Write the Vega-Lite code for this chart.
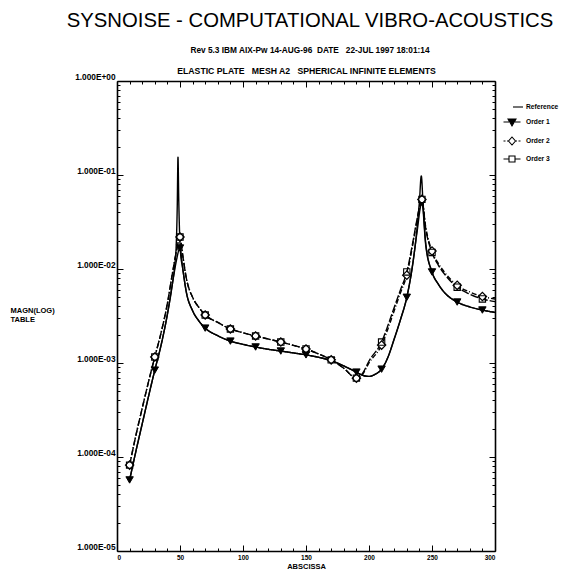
{
  "$schema": "https://vega.github.io/schema/vega-lite/v6.json",
  "width": 378,
  "height": 470,
  "autosize": {"type": "none"},
  "padding": {"left": 117, "top": 81, "right": 75, "bottom": 23},
  "background": "white",
  "config": {
    "font": "Liberation Sans",
    "view": {"stroke": null},
    "axis": {
      "domainColor": "black",
      "domainWidth": 1.6,
      "tickColor": "black",
      "tickWidth": 1,
      "grid": false,
      "labelFont": "Liberation Sans",
      "labelFontWeight": "bold",
      "labelFontSize": 6.5,
      "labelColor": "black",
      "titleFont": "Liberation Sans",
      "titleFontWeight": "bold",
      "titleFontSize": 7.5,
      "titleColor": "black"
    },
    "legend": {
      "labelFont": "Liberation Sans",
      "labelFontWeight": "bold",
      "labelFontSize": 6.7,
      "labelColor": "black"
    }
  },
  "title": {
    "text": "SYSNOISE - COMPUTATIONAL VIBRO-ACOUSTICS",
    "subtitle": "Rev 5.3 IBM AIX-Pw 14-AUG-96\u00a0\u00a0DATE\u00a0\u00a0 22-JUL 1997 18:01:14",
    "anchor": "middle",
    "frame": "group",
    "dx": 4,
    "offset": 12,
    "font": "Liberation Sans",
    "fontSize": 20.3,
    "fontWeight": "normal",
    "color": "black",
    "subtitleFont": "Liberation Sans",
    "subtitleFontSize": 8.3,
    "subtitleFontWeight": "bold",
    "subtitleColor": "black",
    "subtitlePadding": 14.5
  },
  "data": {
    "values": [
      {"series": "Reference", "abscissa": 10, "magnitude": 5.7e-5},
      {"series": "Reference", "abscissa": 15, "magnitude": 1.15e-4},
      {"series": "Reference", "abscissa": 20, "magnitude": 2.25e-4},
      {"series": "Reference", "abscissa": 25, "magnitude": 4.4e-4},
      {"series": "Reference", "abscissa": 30, "magnitude": 8.4e-4},
      {"series": "Reference", "abscissa": 35, "magnitude": 1.55e-3},
      {"series": "Reference", "abscissa": 40, "magnitude": 3.3e-3},
      {"series": "Reference", "abscissa": 44, "magnitude": 7.0e-3},
      {"series": "Reference", "abscissa": 46, "magnitude": 1.15e-2},
      {"series": "Reference", "abscissa": 47, "magnitude": 1.8e-2},
      {"series": "Reference", "abscissa": 47.8, "magnitude": 4.5e-2},
      {"series": "Reference", "abscissa": 48.4, "magnitude": 1.55e-1},
      {"series": "Reference", "abscissa": 49, "magnitude": 5.5e-2},
      {"series": "Reference", "abscissa": 49.6, "magnitude": 2.6e-2},
      {"series": "Reference", "abscissa": 50.5, "magnitude": 1.45e-2},
      {"series": "Reference", "abscissa": 52, "magnitude": 1.05e-2},
      {"series": "Reference", "abscissa": 55, "magnitude": 5.7e-3},
      {"series": "Reference", "abscissa": 60, "magnitude": 3.6e-3},
      {"series": "Reference", "abscissa": 65, "magnitude": 2.8e-3},
      {"series": "Reference", "abscissa": 70, "magnitude": 2.35e-3},
      {"series": "Reference", "abscissa": 80, "magnitude": 1.95e-3},
      {"series": "Reference", "abscissa": 90, "magnitude": 1.71e-3},
      {"series": "Reference", "abscissa": 100, "magnitude": 1.58e-3},
      {"series": "Reference", "abscissa": 110, "magnitude": 1.48e-3},
      {"series": "Reference", "abscissa": 120, "magnitude": 1.40e-3},
      {"series": "Reference", "abscissa": 130, "magnitude": 1.34e-3},
      {"series": "Reference", "abscissa": 140, "magnitude": 1.28e-3},
      {"series": "Reference", "abscissa": 150, "magnitude": 1.22e-3},
      {"series": "Reference", "abscissa": 160, "magnitude": 1.15e-3},
      {"series": "Reference", "abscissa": 170, "magnitude": 1.06e-3},
      {"series": "Reference", "abscissa": 180, "magnitude": 9.3e-4},
      {"series": "Reference", "abscissa": 190, "magnitude": 8.0e-4},
      {"series": "Reference", "abscissa": 195, "magnitude": 7.4e-4},
      {"series": "Reference", "abscissa": 200, "magnitude": 7.2e-4},
      {"series": "Reference", "abscissa": 205, "magnitude": 7.6e-4},
      {"series": "Reference", "abscissa": 210, "magnitude": 8.6e-4},
      {"series": "Reference", "abscissa": 215, "magnitude": 1.15e-3},
      {"series": "Reference", "abscissa": 220, "magnitude": 1.8e-3},
      {"series": "Reference", "abscissa": 225, "magnitude": 2.9e-3},
      {"series": "Reference", "abscissa": 230, "magnitude": 5.0e-3},
      {"series": "Reference", "abscissa": 235, "magnitude": 1.2e-2},
      {"series": "Reference", "abscissa": 238, "magnitude": 2.6e-2},
      {"series": "Reference", "abscissa": 240, "magnitude": 5.2e-2},
      {"series": "Reference", "abscissa": 241.5, "magnitude": 9.8e-2},
      {"series": "Reference", "abscissa": 243, "magnitude": 4.6e-2},
      {"series": "Reference", "abscissa": 245, "magnitude": 1.9e-2},
      {"series": "Reference", "abscissa": 250, "magnitude": 9.3e-3},
      {"series": "Reference", "abscissa": 255, "magnitude": 6.9e-3},
      {"series": "Reference", "abscissa": 260, "magnitude": 5.6e-3},
      {"series": "Reference", "abscissa": 270, "magnitude": 4.45e-3},
      {"series": "Reference", "abscissa": 280, "magnitude": 3.95e-3},
      {"series": "Reference", "abscissa": 290, "magnitude": 3.66e-3},
      {"series": "Reference", "abscissa": 300, "magnitude": 3.45e-3},

      {"series": "Order 1", "abscissa": 10, "magnitude": 5.7e-5},
      {"series": "Order 1", "abscissa": 15, "magnitude": 1.15e-4},
      {"series": "Order 1", "abscissa": 20, "magnitude": 2.25e-4},
      {"series": "Order 1", "abscissa": 25, "magnitude": 4.4e-4},
      {"series": "Order 1", "abscissa": 30, "magnitude": 8.4e-4},
      {"series": "Order 1", "abscissa": 35, "magnitude": 1.55e-3},
      {"series": "Order 1", "abscissa": 40, "magnitude": 3.3e-3},
      {"series": "Order 1", "abscissa": 44, "magnitude": 7.0e-3},
      {"series": "Order 1", "abscissa": 47, "magnitude": 1.2e-2},
      {"series": "Order 1", "abscissa": 50, "magnitude": 1.67e-2},
      {"series": "Order 1", "abscissa": 52, "magnitude": 1.05e-2},
      {"series": "Order 1", "abscissa": 55, "magnitude": 5.7e-3},
      {"series": "Order 1", "abscissa": 60, "magnitude": 3.6e-3},
      {"series": "Order 1", "abscissa": 65, "magnitude": 2.8e-3},
      {"series": "Order 1", "abscissa": 70, "magnitude": 2.35e-3},
      {"series": "Order 1", "abscissa": 80, "magnitude": 1.95e-3},
      {"series": "Order 1", "abscissa": 90, "magnitude": 1.71e-3},
      {"series": "Order 1", "abscissa": 100, "magnitude": 1.58e-3},
      {"series": "Order 1", "abscissa": 110, "magnitude": 1.48e-3},
      {"series": "Order 1", "abscissa": 120, "magnitude": 1.40e-3},
      {"series": "Order 1", "abscissa": 130, "magnitude": 1.34e-3},
      {"series": "Order 1", "abscissa": 140, "magnitude": 1.28e-3},
      {"series": "Order 1", "abscissa": 150, "magnitude": 1.22e-3},
      {"series": "Order 1", "abscissa": 160, "magnitude": 1.15e-3},
      {"series": "Order 1", "abscissa": 170, "magnitude": 1.06e-3},
      {"series": "Order 1", "abscissa": 180, "magnitude": 9.3e-4},
      {"series": "Order 1", "abscissa": 190, "magnitude": 8.0e-4},
      {"series": "Order 1", "abscissa": 195, "magnitude": 7.4e-4},
      {"series": "Order 1", "abscissa": 200, "magnitude": 7.2e-4},
      {"series": "Order 1", "abscissa": 205, "magnitude": 7.6e-4},
      {"series": "Order 1", "abscissa": 210, "magnitude": 8.6e-4},
      {"series": "Order 1", "abscissa": 215, "magnitude": 1.15e-3},
      {"series": "Order 1", "abscissa": 220, "magnitude": 1.8e-3},
      {"series": "Order 1", "abscissa": 225, "magnitude": 2.9e-3},
      {"series": "Order 1", "abscissa": 230, "magnitude": 5.0e-3},
      {"series": "Order 1", "abscissa": 235, "magnitude": 1.2e-2},
      {"series": "Order 1", "abscissa": 238, "magnitude": 2.4e-2},
      {"series": "Order 1", "abscissa": 242, "magnitude": 5.1e-2},
      {"series": "Order 1", "abscissa": 245, "magnitude": 1.8e-2},
      {"series": "Order 1", "abscissa": 250, "magnitude": 9.3e-3},
      {"series": "Order 1", "abscissa": 255, "magnitude": 6.9e-3},
      {"series": "Order 1", "abscissa": 260, "magnitude": 5.6e-3},
      {"series": "Order 1", "abscissa": 270, "magnitude": 4.45e-3},
      {"series": "Order 1", "abscissa": 280, "magnitude": 3.95e-3},
      {"series": "Order 1", "abscissa": 290, "magnitude": 3.66e-3},
      {"series": "Order 1", "abscissa": 300, "magnitude": 3.45e-3},

      {"series": "Order 2", "abscissa": 10, "magnitude": 8.2e-5},
      {"series": "Order 2", "abscissa": 15, "magnitude": 1.7e-4},
      {"series": "Order 2", "abscissa": 20, "magnitude": 3.3e-4},
      {"series": "Order 2", "abscissa": 25, "magnitude": 6.3e-4},
      {"series": "Order 2", "abscissa": 30, "magnitude": 1.16e-3},
      {"series": "Order 2", "abscissa": 35, "magnitude": 2.1e-3},
      {"series": "Order 2", "abscissa": 40, "magnitude": 4.3e-3},
      {"series": "Order 2", "abscissa": 44, "magnitude": 9.0e-3},
      {"series": "Order 2", "abscissa": 47, "magnitude": 1.5e-2},
      {"series": "Order 2", "abscissa": 50, "magnitude": 2.19e-2},
      {"series": "Order 2", "abscissa": 52, "magnitude": 1.45e-2},
      {"series": "Order 2", "abscissa": 55, "magnitude": 8.0e-3},
      {"series": "Order 2", "abscissa": 60, "magnitude": 5.0e-3},
      {"series": "Order 2", "abscissa": 65, "magnitude": 3.9e-3},
      {"series": "Order 2", "abscissa": 70, "magnitude": 3.24e-3},
      {"series": "Order 2", "abscissa": 80, "magnitude": 2.7e-3},
      {"series": "Order 2", "abscissa": 90, "magnitude": 2.3e-3},
      {"series": "Order 2", "abscissa": 100, "magnitude": 2.1e-3},
      {"series": "Order 2", "abscissa": 110, "magnitude": 1.94e-3},
      {"series": "Order 2", "abscissa": 120, "magnitude": 1.8e-3},
      {"series": "Order 2", "abscissa": 130, "magnitude": 1.67e-3},
      {"series": "Order 2", "abscissa": 140, "magnitude": 1.54e-3},
      {"series": "Order 2", "abscissa": 150, "magnitude": 1.41e-3},
      {"series": "Order 2", "abscissa": 160, "magnitude": 1.25e-3},
      {"series": "Order 2", "abscissa": 170, "magnitude": 1.08e-3},
      {"series": "Order 2", "abscissa": 180, "magnitude": 8.8e-4},
      {"series": "Order 2", "abscissa": 190, "magnitude": 6.9e-4},
      {"series": "Order 2", "abscissa": 195, "magnitude": 7.6e-4},
      {"series": "Order 2", "abscissa": 200, "magnitude": 1.0e-3},
      {"series": "Order 2", "abscissa": 210, "magnitude": 1.55e-3},
      {"series": "Order 2", "abscissa": 215, "magnitude": 2.3e-3},
      {"series": "Order 2", "abscissa": 220, "magnitude": 3.6e-3},
      {"series": "Order 2", "abscissa": 225, "magnitude": 5.6e-3},
      {"series": "Order 2", "abscissa": 230, "magnitude": 8.6e-3},
      {"series": "Order 2", "abscissa": 235, "magnitude": 1.9e-2},
      {"series": "Order 2", "abscissa": 238, "magnitude": 3.2e-2},
      {"series": "Order 2", "abscissa": 242, "magnitude": 5.5e-2},
      {"series": "Order 2", "abscissa": 245, "magnitude": 2.8e-2},
      {"series": "Order 2", "abscissa": 250, "magnitude": 1.55e-2},
      {"series": "Order 2", "abscissa": 255, "magnitude": 1.15e-2},
      {"series": "Order 2", "abscissa": 260, "magnitude": 9.2e-3},
      {"series": "Order 2", "abscissa": 270, "magnitude": 6.7e-3},
      {"series": "Order 2", "abscissa": 280, "magnitude": 5.7e-3},
      {"series": "Order 2", "abscissa": 290, "magnitude": 5.1e-3},
      {"series": "Order 2", "abscissa": 300, "magnitude": 4.8e-3},

      {"series": "Order 3", "abscissa": 10, "magnitude": 8.2e-5},
      {"series": "Order 3", "abscissa": 15, "magnitude": 1.7e-4},
      {"series": "Order 3", "abscissa": 20, "magnitude": 3.3e-4},
      {"series": "Order 3", "abscissa": 25, "magnitude": 6.3e-4},
      {"series": "Order 3", "abscissa": 30, "magnitude": 1.16e-3},
      {"series": "Order 3", "abscissa": 35, "magnitude": 2.1e-3},
      {"series": "Order 3", "abscissa": 40, "magnitude": 4.3e-3},
      {"series": "Order 3", "abscissa": 44, "magnitude": 9.0e-3},
      {"series": "Order 3", "abscissa": 47, "magnitude": 1.5e-2},
      {"series": "Order 3", "abscissa": 50, "magnitude": 2.19e-2},
      {"series": "Order 3", "abscissa": 52, "magnitude": 1.45e-2},
      {"series": "Order 3", "abscissa": 55, "magnitude": 8.0e-3},
      {"series": "Order 3", "abscissa": 60, "magnitude": 5.0e-3},
      {"series": "Order 3", "abscissa": 65, "magnitude": 3.9e-3},
      {"series": "Order 3", "abscissa": 70, "magnitude": 3.24e-3},
      {"series": "Order 3", "abscissa": 80, "magnitude": 2.7e-3},
      {"series": "Order 3", "abscissa": 90, "magnitude": 2.3e-3},
      {"series": "Order 3", "abscissa": 100, "magnitude": 2.1e-3},
      {"series": "Order 3", "abscissa": 110, "magnitude": 1.94e-3},
      {"series": "Order 3", "abscissa": 120, "magnitude": 1.8e-3},
      {"series": "Order 3", "abscissa": 130, "magnitude": 1.67e-3},
      {"series": "Order 3", "abscissa": 140, "magnitude": 1.54e-3},
      {"series": "Order 3", "abscissa": 150, "magnitude": 1.41e-3},
      {"series": "Order 3", "abscissa": 160, "magnitude": 1.25e-3},
      {"series": "Order 3", "abscissa": 170, "magnitude": 1.08e-3},
      {"series": "Order 3", "abscissa": 180, "magnitude": 8.8e-4},
      {"series": "Order 3", "abscissa": 190, "magnitude": 6.9e-4},
      {"series": "Order 3", "abscissa": 195, "magnitude": 7.8e-4},
      {"series": "Order 3", "abscissa": 200, "magnitude": 1.05e-3},
      {"series": "Order 3", "abscissa": 210, "magnitude": 1.67e-3},
      {"series": "Order 3", "abscissa": 215, "magnitude": 2.5e-3},
      {"series": "Order 3", "abscissa": 220, "magnitude": 3.9e-3},
      {"series": "Order 3", "abscissa": 225, "magnitude": 6.0e-3},
      {"series": "Order 3", "abscissa": 230, "magnitude": 9.3e-3},
      {"series": "Order 3", "abscissa": 235, "magnitude": 2.0e-2},
      {"series": "Order 3", "abscissa": 238, "magnitude": 3.3e-2},
      {"series": "Order 3", "abscissa": 242, "magnitude": 5.5e-2},
      {"series": "Order 3", "abscissa": 245, "magnitude": 2.7e-2},
      {"series": "Order 3", "abscissa": 250, "magnitude": 1.5e-2},
      {"series": "Order 3", "abscissa": 255, "magnitude": 1.1e-2},
      {"series": "Order 3", "abscissa": 260, "magnitude": 8.8e-3},
      {"series": "Order 3", "abscissa": 270, "magnitude": 6.4e-3},
      {"series": "Order 3", "abscissa": 280, "magnitude": 5.4e-3},
      {"series": "Order 3", "abscissa": 290, "magnitude": 4.8e-3},
      {"series": "Order 3", "abscissa": 300, "magnitude": 4.5e-3}
    ]
  },
  "layer": [
    {
      "mark": {"type": "line", "color": "black", "strokeWidth": 1.4, "interpolate": "monotone"},
      "encoding": {
        "x": {
          "field": "abscissa", "type": "quantitative",
          "scale": {"domain": [0, 300], "nice": false},
          "axis": {
            "orient": "bottom",
            "title": "ABSCISSA",
            "titlePadding": 2,
            "values": [0,10,20,30,40,50,60,70,80,90,100,110,120,130,140,150,160,170,180,190,200,210,220,230,240,250,260,270,280,290,300],
            "labelExpr": "datum.value % 50 === 0 ? datum.value : ''",
            "labelPadding": 9,
            "tickSize": {"condition": {"test": "datum.value % 50 === 0", "value": -6}, "value": -3}
          }
        },
        "y": {
          "field": "magnitude", "type": "quantitative",
          "scale": {"type": "log", "domain": [1e-5, 1], "nice": false},
          "axis": {
            "orient": "left",
            "title": ["MAGN(LOG)", "TABLE"],
            "titleAngle": 0,
            "titleAlign": "left",
            "titleBaseline": "top",
            "titleX": -107,
            "titleY": 225,
            "titleFontSize": 7.5,
            "titleLineHeight": 9,
            "values": [1e-5,2e-5,3e-5,4e-5,5e-5,6e-5,7e-5,8e-5,9e-5,1e-4,2e-4,3e-4,4e-4,5e-4,6e-4,7e-4,8e-4,9e-4,1e-3,2e-3,3e-3,4e-3,5e-3,6e-3,7e-3,8e-3,9e-3,1e-2,2e-2,3e-2,4e-2,5e-2,6e-2,7e-2,8e-2,9e-2,0.1,0.2,0.3,0.4,0.5,0.6,0.7,0.8,0.9,1],
            "labelExpr": "abs(log(datum.value)/LN10 - round(log(datum.value)/LN10)) < 0.001 ? (round(log(datum.value)/LN10) === 0 ? '1.000E+00' : '1.000E-0' + (-round(log(datum.value)/LN10))) : ''",
            "labelBaseline": "bottom",
            "labelFontSize": 8.3,
            "labelPadding": 8,
            "tickSize": {"condition": {"test": "abs(log(datum.value)/LN10 - round(log(datum.value)/LN10)) < 0.001", "value": -6}, "value": -3}
          }
        },
        "strokeDash": {
          "field": "series", "type": "nominal",
          "scale": {"domain": ["Reference", "Order 1", "Order 2", "Order 3"], "range": [[1, 0], [1, 0], [5, 2, 1, 2], [8, 2]]},
          "legend": null
        },
        "detail": {"field": "series"}
      }
    },
    {
      "transform": [
        {"filter": {"field": "series", "equal": "Order 1"}},
        {"filter": {"field": "abscissa", "oneOf": [10, 30, 50, 70, 90, 110, 130, 150, 170, 190, 210, 230, 242, 250, 270, 290]}}
      ],
      "mark": {"type": "point", "shape": "triangle-down", "filled": true, "fill": "black", "stroke": "black", "strokeWidth": 1, "size": 55, "opacity": 1},
      "encoding": {
        "x": {
          "field": "abscissa", "type": "quantitative",
          "axis": {
            "orient": "top",
            "title": "ELASTIC PLATE\u00a0\u00a0 MESH A2\u00a0\u00a0 SPHERICAL INFINITE ELEMENTS",
            "titleFontSize": 8.7,
            "titlePadding": 5,
            "labels": false,
            "values": [0,10,20,30,40,50,60,70,80,90,100,110,120,130,140,150,160,170,180,190,200,210,220,230,240,250,260,270,280,290,300],
            "tickSize": {"condition": {"test": "datum.value % 50 === 0", "value": -6}, "value": -3}
          }
        },
        "y": {
          "field": "magnitude", "type": "quantitative",
          "axis": {
            "orient": "right", "title": null, "labels": false,
            "values": [1e-5,2e-5,3e-5,4e-5,5e-5,6e-5,7e-5,8e-5,9e-5,1e-4,2e-4,3e-4,4e-4,5e-4,6e-4,7e-4,8e-4,9e-4,1e-3,2e-3,3e-3,4e-3,5e-3,6e-3,7e-3,8e-3,9e-3,1e-2,2e-2,3e-2,4e-2,5e-2,6e-2,7e-2,8e-2,9e-2,0.1,0.2,0.3,0.4,0.5,0.6,0.7,0.8,0.9,1],
            "tickSize": {"condition": {"test": "abs(log(datum.value)/LN10 - round(log(datum.value)/LN10)) < 0.001", "value": -6}, "value": -3}
          }
        }
      }
    },
    {
      "transform": [
        {"filter": {"field": "series", "equal": "Order 2"}},
        {"filter": {"field": "abscissa", "oneOf": [10, 30, 50, 70, 90, 110, 130, 150, 170, 190, 210, 230, 242, 250, 270, 290]}}
      ],
      "mark": {"type": "point", "shape": "diamond", "filled": true, "fill": "white", "stroke": "black", "strokeWidth": 1.2, "size": 70, "opacity": 1},
      "encoding": {
        "x": {"field": "abscissa", "type": "quantitative", "axis": null},
        "y": {"field": "magnitude", "type": "quantitative", "axis": null}
      }
    },
    {
      "transform": [
        {"filter": {"field": "series", "equal": "Order 3"}},
        {"filter": {"field": "abscissa", "oneOf": [10, 30, 50, 70, 90, 110, 130, 150, 170, 190, 210, 230, 242, 250, 270, 290]}}
      ],
      "mark": {"type": "point", "shape": "square", "filled": false, "stroke": "black", "strokeWidth": 1.1, "size": 40, "opacity": 1},
      "encoding": {
        "x": {"field": "abscissa", "type": "quantitative", "axis": null},
        "y": {"field": "magnitude", "type": "quantitative", "axis": null}
      }
    },
    {
      "transform": [{"filter": "false"}],
      "mark": {"type": "point", "filled": false, "stroke": "black", "strokeWidth": 1.1, "size": 100, "opacity": 1},
      "encoding": {
        "shape": {
          "field": "series", "type": "nominal",
          "scale": {
            "domain": ["Reference", "Order 1", "Order 2", "Order 3"],
            "range": [
              "M0.2,0H2.2",
              "M-1.7,0H-0.6M0.6,0H1.7M-0.8,-0.6L0.8,-0.6L0,0.8Z",
              "M-1.7,0H-1.3M-1.0,0H-0.8M0.8,0H1.0M1.3,0H1.7M0,-0.8L0.7,0L0,0.8L-0.7,0Z",
              "M-1.7,0H-0.6M0.6,0H1.7M-0.6,-0.6H0.6V0.6H-0.6Z"
            ]
          },
          "legend": {
            "title": null,
            "orient": "none",
            "legendX": 389,
            "legendY": 20,
            "padding": 0,
            "symbolSize": 100,
            "symbolStrokeWidth": 1.1,
            "labelOffset": 8,
            "rowPadding": 5,
            "encoding": {"symbols": {"stroke": {"value": "black"}, "strokeWidth": {"value": 1.1}, "opacity": {"value": 1}}}
          }
        },
        "fill": {
          "field": "series", "type": "nominal",
          "scale": {"domain": ["Reference", "Order 1", "Order 2", "Order 3"], "range": ["transparent", "black", "white", "white"]},
          "legend": {
            "title": null,
            "orient": "none",
            "legendX": 389,
            "legendY": 20,
            "padding": 0,
            "symbolSize": 100,
            "symbolStrokeWidth": 1.1,
            "labelOffset": 8,
            "rowPadding": 5,
            "encoding": {"symbols": {"stroke": {"value": "black"}, "strokeWidth": {"value": 1.1}, "opacity": {"value": 1}}}
          }
        }
      }
    }
  ],
  "resolve": {
    "scale": {"shape": "independent", "fill": "independent"},
    "legend": {"shape": "independent", "fill": "independent"},
    "axis": {"x": "independent", "y": "independent"}
  }
}
